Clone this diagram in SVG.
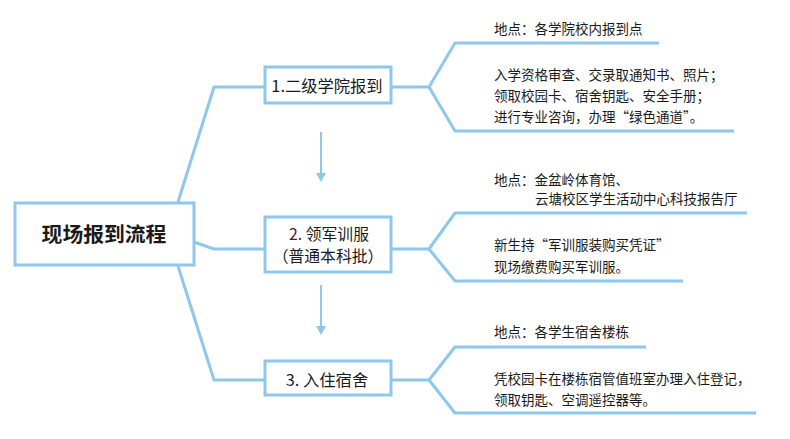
<svg xmlns="http://www.w3.org/2000/svg" width="790" height="439" viewBox="0 0 790 439">
<style>
.box{fill:#fff;stroke:#8DC8EC;stroke-width:3}
.ln{fill:none;stroke:#8DC8EC;stroke-width:3;stroke-linejoin:round}
.ar{fill:none;stroke:#8DC8EC;stroke-width:2}
text{font-family:"Noto Sans CJK SC","Noto Sans",sans-serif;fill:#1a1a1a}
.t{font-size:13.5px}
.n{font-size:16.3px;text-anchor:middle}
.n2{font-size:15.8px;text-anchor:middle}
</style>
<rect width="790" height="439" fill="#fff"/>
<g id="connectors">
<polyline class="ln" points="178,202 214,87 265,87"/>
<polyline class="ln" points="194,242 214,249 265,249"/>
<polyline class="ln" points="178,266 214,380 265,380"/>
<polyline class="ln" points="391,87 429,87 455,43 659,43"/>
<polyline class="ln" points="429,87 455,131 734,131"/>
<polyline class="ln" points="391,249 429,249 455,213 747,213"/>
<polyline class="ln" points="429,249 455,281 683,281"/>
<polyline class="ln" points="391,380 429,380 455,347 646,347"/>
<polyline class="ln" points="429,380 455,413 756,413"/>
<line class="ar" x1="321" y1="132" x2="321" y2="174"/>
<path d="M316,173 L326,173 L321,182 Z" fill="#8DC8EC"/>
<line class="ar" x1="321" y1="285" x2="321" y2="327"/>
<path d="M316,326 L326,326 L321,335 Z" fill="#8DC8EC"/>
</g>
<g id="root">
<rect class="box" x="15" y="203" width="179" height="62"/>
<text x="104" y="241.5" style="font-size:20.8px;font-weight:bold;text-anchor:middle">现场报到流程</text>
</g>
<g id="step1">
<rect class="box" x="265" y="67" width="126" height="36"/>
<text class="n" x="327" y="92">1.二级学院报到</text>
</g>
<g id="step2">
<rect class="box" x="265" y="217" width="126" height="55"/>
<text class="n2" x="329" y="239.5"><tspan fill="#5B1A1A">2.</tspan> 领军训服</text>
<text class="n2" x="328" y="261.5">（普通本科批）</text>
</g>
<g id="step3">
<rect class="box" x="265" y="361" width="126" height="34"/>
<text class="n" x="327" y="386">3. 入住宿舍</text>
</g>
<g id="info1a"><text class="t" x="494" y="34">地点：各学院校内报到点</text></g>
<g id="info1b">
<text class="t" x="494" y="80">入学资格审查、交录取通知书、照片；</text>
<text class="t" x="494" y="101">领取校园卡、宿舍钥匙、安全手册；</text>
<text class="t" x="494" y="122">进行专业咨询，办理“绿色通道”。</text>
</g>
<g id="info2a">
<text class="t" x="494" y="185">地点：金盆岭体育馆、</text>
<text class="t" x="535" y="204">云塘校区学生活动中心科技报告厅</text>
</g>
<g id="info2b">
<text class="t" x="494" y="250">新生持“军训服装购买凭证”</text>
<text class="t" x="494" y="272">现场缴费购买军训服。</text>
</g>
<g id="info3a"><text class="t" x="494" y="337">地点：各学生宿舍楼栋</text></g>
<g id="info3b">
<text class="t" x="494" y="384">凭校园卡在楼栋宿管值班室办理入住登记，</text>
<text class="t" x="494" y="405">领取钥匙、空调遥控器等。</text>
</g>
</svg>
